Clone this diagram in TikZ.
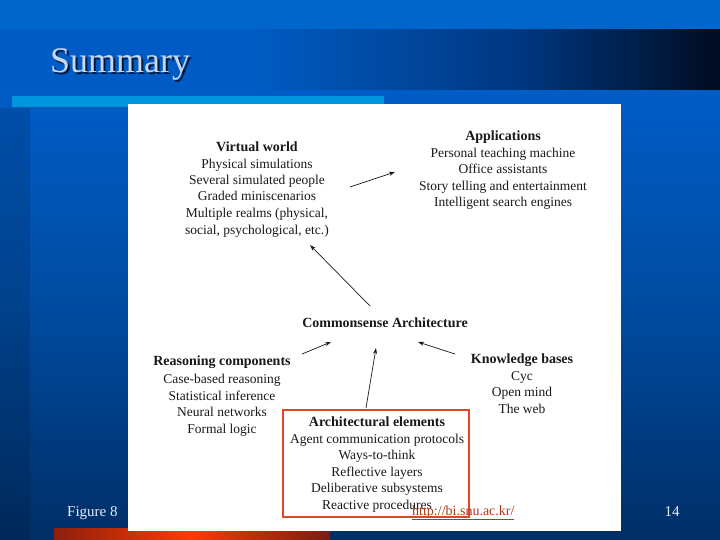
\documentclass[tikz,border=0pt]{standalone}
\usepackage{fontspec}
\setmainfont{Liberation Serif}
\usetikzlibrary{arrows.meta}
\definecolor{topblue}{RGB}{0,102,204}
\definecolor{bandblue}{RGB}{0,92,196}
\definecolor{bandmid}{RGB}{0,55,128}
\definecolor{banddark}{RGB}{0,12,32}
\definecolor{lowtop}{RGB}{0,92,198}
\definecolor{lowmid}{RGB}{0,76,162}
\definecolor{lowbot}{RGB}{0,46,102}
\definecolor{cyanbar}{RGB}{0,150,222}
\definecolor{orA}{RGB}{140,32,12}
\definecolor{orB}{RGB}{255,58,0}
\definecolor{orC}{RGB}{120,28,18}
\definecolor{titlefg}{RGB}{200,214,238}
\definecolor{titlesh}{RGB}{0,22,60}
\definecolor{foot}{RGB}{228,236,250}
\definecolor{urlc}{RGB}{172,58,22}
\definecolor{redline}{RGB}{218,72,40}
\definecolor{ink}{RGB}{25,25,25}
\tikzset{
  blk/.style={align=center, text=ink, inner sep=0pt, anchor=base,
    font=\fontsize{13.5}{16.5}\selectfont},
  arr/.style={-{Stealth[length=6pt,width=4pt]}, line width=0.7pt, ink},
  footer/.style={text=foot, inner sep=0pt, font=\fontsize{15}{18}\selectfont}
}
\newcommand{\hdl}[1]{{\fontsize{14}{16.5}\selectfont\bfseries #1}}
\begin{document}
\begin{tikzpicture}[x=1pt,y=-1pt]
\useasboundingbox (0,0) rectangle (720,540);
% background
\fill[topblue] (0,0) rectangle (720,31);
\fill[bandblue] (0,30) rectangle (251,91);
\shade[left color=bandblue, right color=bandmid] (250,30) rectangle (521,91);
\shade[left color=bandmid, right color=banddark] (520,30) rectangle (720,91);
\shade[top color=lowtop, bottom color=lowmid] (0,91) rectangle (720,301);
\shade[top color=lowmid, bottom color=lowbot] (0,300) rectangle (720,540);
\fill[black, opacity=0.13] (0,108) rectangle (30,540);
% bars
\shade[left color=orA, right color=orB] (54,528) rectangle (191,540);
\shade[left color=orB, right color=orC] (190,528) rectangle (330,540);
\fill[cyanbar] (12,96) rectangle (384,107);
% title
\node[anchor=base west, inner sep=0pt, text=titlesh, font=\fontsize{36}{40}\selectfont] (titlesh) at (52,75) {Summary};
\node[anchor=base west, inner sep=0pt, text=titlefg, font=\fontsize{36}{40}\selectfont] (title) at (50,73) {Summary};
% white figure
\fill[white] (128,104) rectangle (621,531);
% diagram blocks (base anchor = last line's baseline)
\node[blk] (vw) at (257,234) {\hdl{Virtual world}\\Physical simulations\\Several simulated people\\Graded miniscenarios\\Multiple realms (physical,\\social, psychological, etc.)};
\node[blk] (ap) at (503,207) {\hdl{Applications}\\Personal teaching machine\\Office assistants\\Story telling and entertainment\\Intelligent search engines};
\node[blk] (ca) at (385,327) {\hdl{Commonsense Architecture}};
\node[blk] (rc) at (222,433) {\hdl{Reasoning components}\\[1.5pt]Case-based reasoning\\Statistical inference\\Neural networks\\Formal logic};
\node[blk] (kb) at (522,413) {\hdl{Knowledge bases}\\Cyc\\Open mind\\The web};
\node[blk] (ae) at (377,509) {\hdl{Architectural elements}\\Agent communication protocols\\Ways-to-think\\Reflective layers\\Deliberative subsystems\\Reactive procedures};
% connector end points
\coordinate (vwOut) at (350,187);
\coordinate (apIn) at (395,172);
\coordinate (caUp) at (370,306);
\coordinate (vwIn) at (310,245);
\coordinate (rcOut) at (302,354);
\coordinate (caL) at (331,342);
\coordinate (aeOut) at (366,408);
\coordinate (caB) at (376,348);
\coordinate (kbOut) at (455,354);
\coordinate (caR) at (418,342);
\draw[arr] (vwOut) -- (apIn);
\draw[arr] (caUp) -- (vwIn);
\draw[arr] (rcOut) -- (caL);
\draw[arr] (aeOut) -- (caB);
\draw[arr] (kbOut) -- (caR);
% footer
\node[footer, anchor=base west] (fig) at (67,516) {Figure 8};
\node[footer, anchor=base] (pg) at (672,516) {14};
\node[anchor=base west, inner sep=0pt, text=urlc, font=\fontsize{14}{16}\selectfont] (url) at (412,515) {\underline{http://bi.snu.ac.kr/}};
% red highlight frame
\draw[redline, line width=2.6pt] (283,410) rectangle (469,517);
\end{tikzpicture}
\end{document}
